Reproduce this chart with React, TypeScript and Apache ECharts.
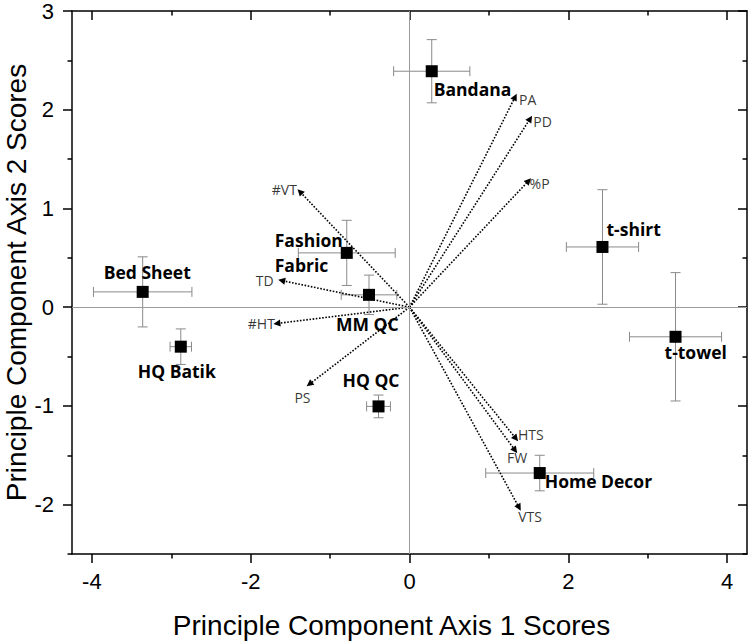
import React, { useEffect, useRef } from "react";
import * as echarts from "echarts";

// ---- Data ----
const sampleNames = ["Bandana", "t-shirt", "t-towel", "Home Decor", "Fashion\nFabric", "MM QC", "HQ QC", "Bed Sheet", "HQ Batik"];
const pc1Scores = [0.28, 2.43, 3.35, 1.64, -0.79, -0.51, -0.39, -3.36, -2.88];
const pc2Scores = [2.39, 0.61, -0.3, -1.68, 0.55, 0.125, -1.005, 0.155, -0.4];
const pc1Errors = [0.48, 0.455, 0.58, 0.68, 0.61, 0.35, 0.15, 0.62, 0.135];
const pc2Errors = [0.32, 0.58, 0.65, 0.18, 0.33, 0.2, 0.115, 0.355, 0.18];

const variableNames = ["PA", "PD", "%P", "#VT", "TD", "#HT", "PS", "HTS", "FW", "VTS"];
const loading1 = [1.33, 1.52, 1.5, -1.38, -1.61, -1.67, -1.26, 1.34, 1.33, 1.38];
const loading2 = [2.13, 1.91, 1.28, 1.17, 0.27, -0.165, -0.78, -1.33, -1.45, -2.03];

const xMajorTicks = [-4, -2, 0, 2, 4];
const xMinorTicks = [-3, -1, 1, 3];
const yMajorTicks = [-2, -1, 0, 1, 2, 3];
const yMinorTicks = [-2.5, -1.5, -0.5, 0.5, 1.5, 2.5];

const xTitle = "Principle Component Axis 1 Scores";
const yTitle = "Principle Component Axis 2 Scores";

// ---- Presentation (label placement relative to marks) ----
const sampleLabelPlace: Record<string, [string, number, number]> = {
  "Bandana": ["left", 2, 18],
  "t-shirt": ["left", 4, -18],
  "t-towel": ["left", -11, 15],
  "Home Decor": ["left", 5, 8],
  "Fashion\nFabric": ["left", -72, 0],
  "MM QC": ["left", -33, 29],
  "HQ QC": ["left", -36, -26],
  "Bed Sheet": ["left", -39, -20],
  "HQ Batik": ["left", -43, 24],
};
const variableLabelPlace: Record<string, [string, number, number]> = {
  "PA": ["left", 4, 3],
  "PD": ["left", 3, 2.5],
  "%P": ["left", 1, 2.5],
  "#VT": ["right", -3, -2],
  "TD": ["right", -8, 0],
  "#HT": ["right", -2, 0],
  "PS": ["center", -7, 13],
  "HTS": ["left", 2, -4],
  "FW": ["center", 2, 7],
  "VTS": ["center", 11, 9],
};

const X_MIN = -4.25, X_MAX = 4.25, Y_MIN = -2.5, Y_MAX = 3;
const AXIS_FONT = "'Liberation Sans', Arial, sans-serif";
const LABEL_FONT = "'Open Sans', sans-serif";
const BLACK = "#000";

function makeX(position: string, ticks: number[], len: number, inside: boolean, main: boolean): any {
  return {
    type: "value",
    position,
    min: X_MIN,
    max: X_MAX,
    axisLine: { show: main, onZero: false, lineStyle: { color: BLACK, width: 1.5 } },
    axisTick: { show: true, customValues: ticks, length: len, inside, lineStyle: { color: BLACK, width: 1.5 } },
    axisLabel: main && position === "bottom"
      ? { show: true, customValues: ticks, fontSize: 22, fontFamily: AXIS_FONT, color: BLACK, margin: 16 }
      : { show: false },
    splitLine: { show: false },
    ...(main && position === "bottom"
      ? {
          name: xTitle,
          nameLocation: "middle",
          nameGap: 57,
          nameMoveOverlap: false,
          nameTextStyle: { fontSize: 28, fontFamily: AXIS_FONT, color: BLACK, padding: [0, 36, 0, 0] },
        }
      : {}),
  };
}

function makeY(position: string, ticks: number[], len: number, inside: boolean, main: boolean): any {
  return {
    type: "value",
    position,
    min: Y_MIN,
    max: Y_MAX,
    axisLine: { show: main, onZero: false, lineStyle: { color: BLACK, width: 1.5 } },
    axisTick: { show: true, customValues: ticks, length: len, inside, lineStyle: { color: BLACK, width: 1.5 } },
    axisLabel: main && position === "left"
      ? { show: true, customValues: ticks, fontSize: 22, fontFamily: AXIS_FONT, color: BLACK, margin: 18 }
      : { show: false },
    splitLine: { show: false },
    ...(main && position === "left"
      ? {
          name: yTitle,
          nameLocation: "middle",
          nameGap: 42,
          nameMoveOverlap: false,
          nameTextStyle: { fontSize: 28, fontFamily: AXIS_FONT, color: BLACK },
        }
      : {}),
  };
}

export default function App() {
  const ref = useRef<HTMLDivElement>(null);

  useEffect(() => {
    if (!ref.current) return;
    const chart = echarts.init(ref.current, null, { renderer: "svg" });

    const sampleData = sampleNames.map((n, i) => {
      const p = sampleLabelPlace[n];
      return {
        name: n,
        value: [pc1Scores[i], pc2Scores[i]],
        label: {
          show: true,
          position: "inside",
          align: p[0],
          verticalAlign: "middle",
          offset: [p[1], p[2]],
          formatter: n,
        },
      };
    });

    const errorData = sampleNames.map((n, i) => [pc1Scores[i], pc2Scores[i], pc1Errors[i], pc2Errors[i]]);

    const arrowData = variableNames.map((n, i) => ({
      name: n,
      coords: [[0, 0], [loading1[i], loading2[i]]],
    }));

    const variableLabelData = variableNames.map((n, i) => {
      const p = variableLabelPlace[n];
      return {
        name: n,
        value: [loading1[i], loading2[i]],
        label: {
          show: true,
          position: "inside",
          align: p[0],
          verticalAlign: "middle",
          offset: [p[1], p[2]],
          formatter: n,
        },
      };
    });

    const option: any = {
      animation: false,
      backgroundColor: "#fff",
      grid: { left: 72, right: 3, top: 11, bottom: 88, containLabel: false, outerBoundsMode: "none" },
      xAxis: [
        makeX("bottom", xMajorTicks, 9, false, true),
        makeX("bottom", xMinorTicks, 4.5, false, false),
        makeX("top", xMajorTicks, 9, true, true),
        makeX("top", xMinorTicks, 4.5, true, false),
      ],
      yAxis: [
        makeY("left", yMajorTicks, 9, false, true),
        makeY("left", yMinorTicks, 4.5, false, false),
        makeY("right", yMajorTicks, 9, true, true),
        makeY("right", yMinorTicks, 4.5, true, false),
      ],
      series: [
        {
          type: "custom",
          name: "errors",
          xAxisIndex: 0,
          yAxisIndex: 0,
          data: errorData,
          encode: { x: 0, y: 1 },
          z: 2,
          silent: true,
          renderItem: (params: any, api: any) => {
            const x = api.value(0), y = api.value(1), ex = api.value(2), ey = api.value(3);
            const l = api.coord([x - ex, y]);
            const r = api.coord([x + ex, y]);
            const t = api.coord([x, y + ey]);
            const b = api.coord([x, y - ey]);
            const cap = 5;
            const style = { stroke: "#8a8a8a", lineWidth: 1 };
            return {
              type: "group",
              children: [
                { type: "line", shape: { x1: l[0], y1: l[1], x2: r[0], y2: r[1] }, style },
                { type: "line", shape: { x1: l[0], y1: l[1] - cap, x2: l[0], y2: l[1] + cap }, style },
                { type: "line", shape: { x1: r[0], y1: r[1] - cap, x2: r[0], y2: r[1] + cap }, style },
                { type: "line", shape: { x1: t[0], y1: t[1], x2: b[0], y2: b[1] }, style },
                { type: "line", shape: { x1: t[0] - cap, y1: t[1], x2: t[0] + cap, y2: t[1] }, style },
                { type: "line", shape: { x1: b[0] - cap, y1: b[1], x2: b[0] + cap, y2: b[1] }, style },
              ],
            };
          },
          markLine: {
            silent: true,
            symbol: "none",
            label: { show: false },
            lineStyle: { color: "#9a9a9a", width: 1, type: "solid" },
            data: [{ xAxis: 0 }, { yAxis: 0 }],
          },
        },
        {
          type: "lines",
          name: "loadings",
          coordinateSystem: "cartesian2d",
          xAxisIndex: 0,
          yAxisIndex: 0,
          z: 3,
          silent: true,
          symbol: ["none", "triangle"],
          symbolSize: [0, 7],
          lineStyle: { color: BLACK, width: 1.6, type: [1.6, 1.6], opacity: 1 },
          data: arrowData,
        },
        {
          type: "scatter",
          name: "variableLabels",
          xAxisIndex: 0,
          yAxisIndex: 0,
          z: 4,
          silent: true,
          symbol: "circle",
          symbolSize: 0.1,
          itemStyle: { color: "rgba(0,0,0,0)" },
          label: { fontFamily: LABEL_FONT, fontSize: 14, color: BLACK },
          data: variableLabelData,
        },
        {
          type: "scatter",
          name: "samples",
          xAxisIndex: 0,
          yAxisIndex: 0,
          z: 5,
          silent: true,
          symbol: "rect",
          symbolSize: 12,
          itemStyle: { color: BLACK, opacity: 1 },
          label: {
            fontFamily: LABEL_FONT,
            fontSize: 17.5,
            fontWeight: "bold",
            color: BLACK,
            lineHeight: 25,
          },
          data: sampleData,
        },
      ],
    };

    chart.setOption(option);
    return () => {
      chart.dispose();
    };
  }, []);

  return (
    <div
      ref={ref}
      style={{ position: "fixed", left: 0, top: 0, width: 750, height: 642, background: "#fff" }}
    />
  );
}
